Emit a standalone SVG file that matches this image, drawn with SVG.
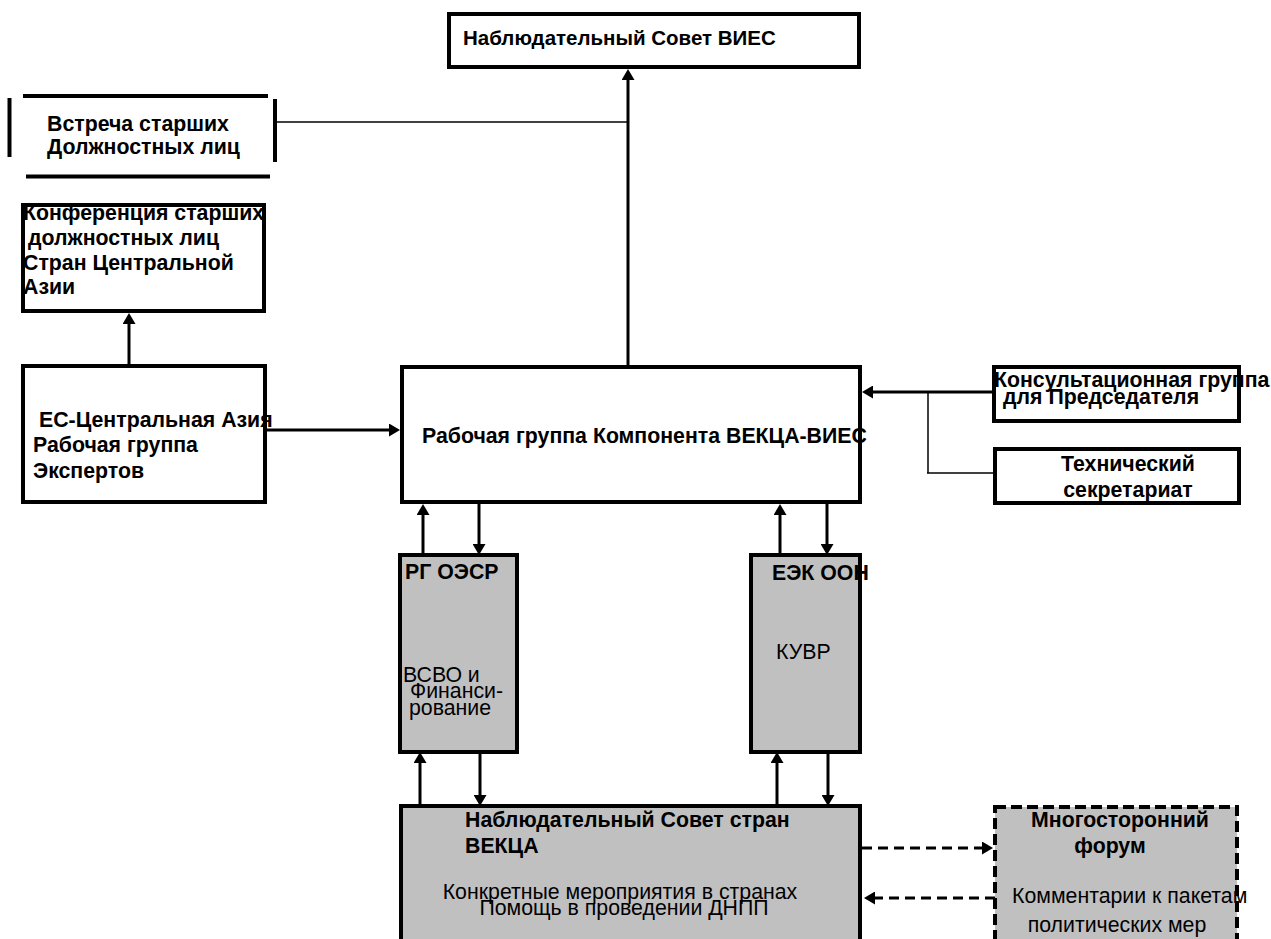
<svg xmlns="http://www.w3.org/2000/svg" width="1271" height="939" viewBox="0 0 1271 939">
<style>
.box{fill:#fff;stroke:#000;stroke-width:4}
.gbox{fill:#c0c0c0;stroke:#000;stroke-width:4}
.dbox{fill:#c0c0c0;stroke:#000;stroke-width:4;stroke-dasharray:11 5}
.bar{stroke:#000;stroke-width:4;fill:none}
.b{font-family:"Liberation Sans",Arial,sans-serif;font-weight:bold;font-size:21.3px;fill:#000}
.r{font-family:"Liberation Sans",Arial,sans-serif;font-size:21.3px;fill:#000}
.t{font-size:20.5px}
.c{text-anchor:middle}
.arr{stroke:#000;stroke-width:3;fill:none;marker-end:url(#ah)}
.dash{stroke:#000;stroke-width:3;fill:none;stroke-dasharray:10 6;marker-end:url(#ah)}
.thin{stroke:#000;stroke-width:1.5;fill:none}
</style>
<defs>
<marker id="ah" markerUnits="userSpaceOnUse" markerWidth="12" markerHeight="13" refX="0" refY="6.5" orient="auto">
<path d="M0,0 L11,6.5 L0,13 z" fill="#000"/>
</marker>
</defs>
<rect width="1271" height="939" fill="#fff"/>
<g id="connectors">
<line class="arr" x1="628" y1="366" x2="628" y2="80"/>
<line class="thin" x1="277" y1="122" x2="628" y2="122"/>
<line class="arr" x1="129" y1="364" x2="129" y2="324"/>
<line class="arr" x1="265" y1="430" x2="389" y2="430"/>
<line class="arr" x1="994" y1="392" x2="873" y2="392"/>
<line class="thin" x1="928" y1="392" x2="928" y2="473"/>
<line class="thin" x1="927" y1="473" x2="995" y2="473"/>
<line class="arr" x1="423" y1="555" x2="423" y2="515"/>
<line class="arr" x1="479" y1="504" x2="479" y2="544"/>
<line class="arr" x1="780" y1="555" x2="780" y2="515"/>
<line class="arr" x1="827" y1="504" x2="827" y2="544"/>
<line class="arr" x1="420" y1="806" x2="420" y2="763"/>
<line class="arr" x1="480" y1="752" x2="480" y2="795"/>
<line class="arr" x1="777" y1="806" x2="777" y2="763"/>
<line class="arr" x1="828" y1="752" x2="828" y2="795"/>
<line class="dash" x1="862" y1="848" x2="982" y2="848"/>
<line class="dash" x1="995" y1="898" x2="875" y2="898"/>
</g>
<g id="nabl-sovet-vies">
<rect class="box" x="449" y="14" width="410" height="53"/>
<text class="b t" x="463" y="45">Наблюдательный Совет ВИЕС</text>
</g>
<g id="vstrecha">
<line class="bar" x1="9.5" y1="98" x2="9.5" y2="157"/>
<line class="bar" x1="23" y1="96" x2="268" y2="96"/>
<line class="bar" x1="275" y1="99" x2="275" y2="162"/>
<line class="bar" x1="26" y1="176.5" x2="270" y2="176.5"/>
<text class="b" x="47" y="131">Встреча старших</text>
<text class="b" x="47" y="154">Должностных лиц</text>
</g>
<g id="konferencia">
<rect class="box" x="23" y="205" width="241" height="106"/>
<text class="b" x="23" y="220">Конференция старших</text>
<text class="b" x="28" y="245">должностных лиц</text>
<text class="b" x="23" y="270">Стран Центральной</text>
<text class="b" x="23" y="294">Азии</text>
</g>
<g id="es-ca">
<rect class="box" x="23" y="366" width="242" height="136"/>
<text class="b" x="39" y="427">ЕС-Центральная Азия</text>
<text class="b" x="33" y="452">Рабочая группа</text>
<text class="b" x="33" y="478">Экспертов</text>
</g>
<g id="rabochaya-gruppa">
<rect class="box" x="402" y="367" width="458" height="135"/>
<text class="b" x="422" y="443">Рабочая группа Компонента ВЕКЦА-ВИЕС</text>
</g>
<g id="konsult">
<rect class="box" x="994" y="367" width="245" height="54"/>
<text class="b" x="994" y="387">Консультационная группа</text>
<text class="b" x="1003" y="404">для Председателя</text>
</g>
<g id="tech-sekr">
<rect class="box" x="995" y="449" width="244" height="54"/>
<text class="b c" x="1128" y="471">Технический</text>
<text class="b c" x="1128" y="497">секретариат</text>
</g>
<g id="rg-oecd">
<rect class="gbox" x="400" y="555" width="117" height="197"/>
<text class="b" x="405" y="579">РГ ОЭСР</text>
<text class="r" x="403" y="682">ВСВО и</text>
<text class="r" x="410" y="698">Финанси-</text>
<text class="r" x="409" y="715">рование</text>
</g>
<g id="eek-oon">
<rect class="gbox" x="751" y="555" width="109" height="197"/>
<text class="b" x="772" y="580">ЕЭК ООН</text>
<text class="r" x="776" y="659">КУВР</text>
</g>
<g id="nabl-sovet-stran">
<rect class="gbox" x="401" y="806" width="459" height="145"/>
<text class="b" x="465" y="827">Наблюдательный Совет стран</text>
<text class="b" x="465" y="853">ВЕКЦА</text>
<text class="r c" x="620" y="899">Конкретные мероприятия в странах</text>
<text class="r c" x="624" y="915">Помощь в проведении ДНПП</text>
</g>
<g id="forum">
<rect class="dbox" x="995" y="807" width="242" height="145"/>
<text class="b c" x="1120" y="827">Многосторонний</text>
<text class="b c" x="1110" y="853">форум</text>
<text class="r" x="1012" y="903">Комментарии к пакетам</text>
<text class="r c" x="1117" y="932">политических мер</text>
</g>
</svg>
